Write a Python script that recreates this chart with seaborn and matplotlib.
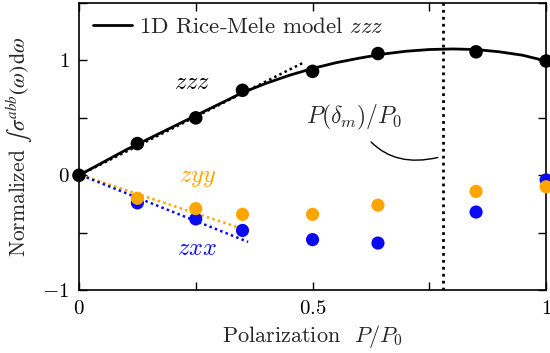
import numpy as np
import pandas as pd
import seaborn as sns
import matplotlib
matplotlib.use("Agg")
import matplotlib.pyplot as plt
from matplotlib.ticker import FixedLocator, FixedFormatter

# ---- data ----
pol_points = [0.0, 0.125, 0.25, 0.35, 0.5, 0.64, 0.85, 1.0]
zzz_points = [0.0, 0.276, 0.50, 0.74, 0.905, 1.06, 1.075, 0.995]
zyy_points = [None, -0.20, -0.29, -0.34, -0.34, -0.26, -0.14, -0.10]
zxx_points = [None, -0.24, -0.38, -0.48, -0.56, -0.59, -0.32, -0.04]

model_x = [0.0, 0.05, 0.1, 0.15, 0.2, 0.25, 0.3, 0.35, 0.4, 0.45, 0.5, 0.55, 0.6,
           0.65, 0.7, 0.75, 0.8, 0.85, 0.9, 0.95, 1.0]
model_zzz = [0.0, 0.11, 0.22, 0.32, 0.42, 0.52, 0.62, 0.72, 0.80, 0.87, 0.93, 0.98, 1.02,
             1.055, 1.08, 1.095, 1.10, 1.095, 1.075, 1.045, 0.995]

slope_zzz_x = [0.0, 0.48]
slope_zzz_y = [0.0, 0.98]
slope_zyy_x = [0.005, 0.338]
slope_zyy_y = [0.0, -0.45]
slope_zxx_x = [0.005, 0.362]
slope_zxx_y = [0.0, -0.58]

p_delta_m = 0.78

legend_label = "1D Rice-Mele model $zzz$"
xlabel = r"Polarization  $P/P_0$"
ylabel = r"Normalized $\int\,\sigma^{abb}(\omega)\,\mathrm{d}\omega$"
x_ticks = [0, 0.25, 0.5, 0.75, 1.0]
x_ticklabels = ["$0$", "", "$0.5$", "", "$1$"]
y_ticks = [-1, -0.5, 0, 0.5, 1, 1.5]
y_ticklabels = ["$-1$", "", "$0$", "", "$1$", ""]

# ---- style ----
sns.set_theme(style="ticks")
plt.rcParams["font.family"] = ["cmr10", "DejaVu Serif"]
plt.rcParams["mathtext.fontset"] = "cm"
plt.rcParams["axes.formatter.use_mathtext"] = True
plt.rcParams["font.size"] = 15

orange = "#FFA500"
blue = "#0A0AF0"

fig = plt.figure(figsize=(5.5, 3.53), dpi=100)
ax = fig.add_axes([0.1436, 0.178, 0.8494, 0.8135])

model_df = pd.DataFrame({"P": model_x, "sigma": model_zzz})
sns.lineplot(data=model_df, x="P", y="sigma", ax=ax, color="black", lw=2.0,
             label=legend_label, zorder=3)

pts = pd.DataFrame({"P": pol_points, "zzz": zzz_points,
                    "zyy": pd.to_numeric(pd.Series(zyy_points), errors="coerce"),
                    "zxx": pd.to_numeric(pd.Series(zxx_points), errors="coerce")})

ax.plot(slope_zzz_x, slope_zzz_y, ls=(0, (1, 1.3)), color="black", lw=1.8, zorder=2)
ax.plot(slope_zyy_x, slope_zyy_y, ls=(0, (1, 1.3)), color=orange, lw=1.8, zorder=2)
ax.plot(slope_zxx_x, slope_zxx_y, ls=(0, (1, 1.3)), color=blue, lw=1.8, zorder=2)

sns.scatterplot(data=pts, x="P", y="zxx", ax=ax, color=blue, s=90, edgecolor="none",
                zorder=4, clip_on=False)
sns.scatterplot(data=pts, x="P", y="zyy", ax=ax, color=orange, s=90, edgecolor="none",
                zorder=5, clip_on=False)
sns.scatterplot(data=pts, x="P", y="zzz", ax=ax, color="black", s=95, edgecolor="none",
                zorder=6, clip_on=False)

ax.axvline(p_delta_m, color="black", ls=(0, (1, 1.5)), lw=2.0, zorder=1)

ax.text(0.242, 0.80, "$zzz$", ha="center", va="center", fontsize=17.5, color="black")
ax.text(0.253, -0.02, "$zyy$", ha="center", va="center", fontsize=17.5, color=orange)
ax.text(0.253, -0.64, "$zxx$", ha="center", va="center", fontsize=17.5, color=blue)

ax.annotate(r"$P(\delta_m)/P_0$", xy=(0.768, 0.155), xytext=(0.59, 0.50),
            ha="center", va="center", fontsize=17,
            arrowprops=dict(arrowstyle="-", color="black", lw=1.0,
                            shrinkA=6, shrinkB=0,
                            connectionstyle="arc3,rad=0.4"))

ax.set_xlim(0, 1)
ax.set_ylim(-1, 1.5)
ax.xaxis.set_major_locator(FixedLocator(x_ticks))
ax.xaxis.set_major_formatter(FixedFormatter(x_ticklabels))
ax.yaxis.set_major_locator(FixedLocator(y_ticks))
ax.yaxis.set_major_formatter(FixedFormatter(y_ticklabels))
ax.tick_params(direction="in", top=True, right=True, length=6, width=1.0,
               labelsize=15, colors="black", pad=7)
for sp in ax.spines.values():
    sp.set_linewidth(1.2)
    sp.set_color("black")

ax.set_xlabel(xlabel, fontsize=16, labelpad=4)
ax.set_ylabel(ylabel, fontsize=15.5, math_fontfamily="stix")
ax.yaxis.set_label_coords(-0.094, 0.5)

leg = ax.legend(loc="upper left", frameon=False, fontsize=16.5, handlelength=1.7,
                handletextpad=0.3, borderaxespad=0.2)

fig.savefig("out.png", dpi=100)
